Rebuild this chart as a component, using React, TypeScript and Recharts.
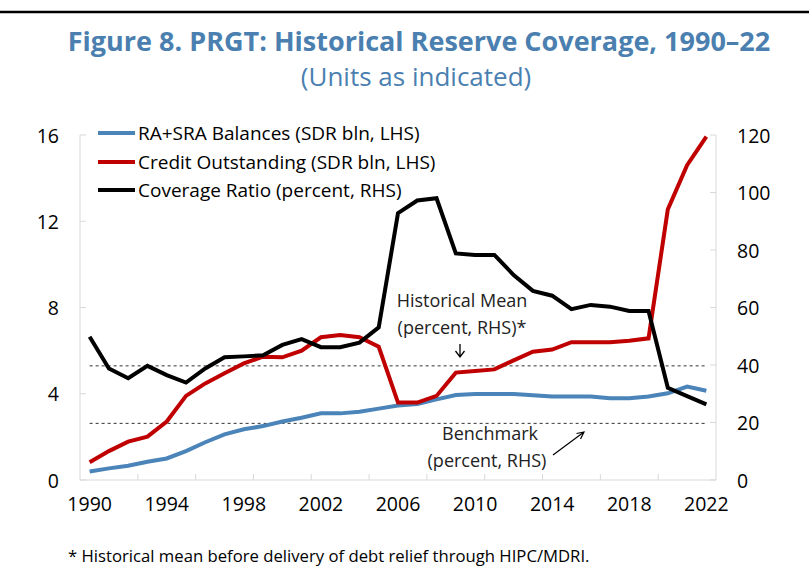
import React from 'react';
import { LineChart, Line, XAxis, YAxis, Legend } from 'recharts';

const years = [
  1990, 1991, 1992, 1993, 1994, 1995, 1996, 1997, 1998, 1999, 2000,
  2001, 2002, 2003, 2004, 2005, 2006, 2007, 2008, 2009, 2010, 2011,
  2012, 2013, 2014, 2015, 2016, 2017, 2018, 2019, 2020, 2021, 2022,
];
// SDR bln, left axis
const raSraBalances = [
  0.39, 0.54, 0.66, 0.85, 1.0, 1.34, 1.75, 2.12, 2.35, 2.5, 2.71,
  2.89, 3.09, 3.09, 3.17, 3.31, 3.45, 3.52, 3.74, 3.94, 3.99, 3.99,
  3.99, 3.93, 3.87, 3.87, 3.87, 3.79, 3.79, 3.87, 4.02, 4.33, 4.14,
];
const creditOutstanding = [
  0.82, 1.34, 1.78, 2.01, 2.71, 3.9, 4.48, 4.95, 5.41, 5.72, 5.69,
  6.0, 6.62, 6.72, 6.62, 6.18, 3.59, 3.59, 3.9, 4.98, 5.05, 5.13,
  5.55, 5.95, 6.05, 6.39, 6.39, 6.39, 6.46, 6.57, 12.55, 14.6, 15.92,
];
// percent, right axis
const coverageRatio = [
  49.8, 38.8, 35.4, 39.7, 36.5, 33.9, 38.8, 42.7, 43.0, 43.4, 47.0,
  49.0, 46.2, 46.2, 47.8, 53.1, 92.8, 97.2, 98.0, 78.8, 78.3, 78.3,
  71.3, 65.8, 64.1, 59.4, 60.9, 60.3, 58.8, 58.8, 32.1, 29.2, 26.3,
];
const historicalMean = 39.7;
const benchmark = 19.7;

const yearLabels = [1990, 1994, 1998, 2002, 2006, 2010, 2014, 2018, 2022];
const leftTicks = [0, 4, 8, 12, 16];
const rightTicks = [0, 20, 40, 60, 80, 100, 120];

const FONT = '"Open Sans", sans-serif';
const AXIS = '#d9d9d9';
const BLUE = '#4a84b8';
const RED = '#c00000';
const TITLE = '#4a7fb0';
const X_MARGIN = 23;
const Y_MARGIN = 21;

const seriesNames = [
  'RA+SRA Balances (SDR bln, LHS)',
  'Credit Outstanding (SDR bln, LHS)',
  'Coverage Ratio (percent, RHS)',
];
const seriesColors = [BLUE, RED, '#000'];

const data = years.map((year, i) => ({
  year,
  balances: raSraBalances[i],
  credit: creditOutstanding[i],
  coverage: coverageRatio[i],
  mean: historicalMean,
  bench: benchmark,
}));

// small tick marks sit between categories, every third year
const tickMarks = years.filter((_, i) => i > 0 && i % 3 === 0).map((y) => y - 0.5);
const xTicks = [...yearLabels, ...tickMarks].sort((a, b) => a - b);

const XTick = (props: any) => {
  const { x, y, payload } = props;
  const v = payload.value;
  const axisY = y - X_MARGIN;
  if (v % 1 !== 0) {
    return <line x1={x} x2={x} y1={axisY} y2={axisY - 6} stroke={AXIS} />;
  }
  return (
    <text x={x} y={y} textAnchor="middle" dominantBaseline="central" fontSize={19.5} fontFamily={FONT} fill="#000">
      {v}
    </text>
  );
};

const LeftTick = (props: any) => {
  const { x, y, payload } = props;
  return (
    <g>
      <line x1={x + Y_MARGIN} x2={x + Y_MARGIN + 6} y1={y} y2={y} stroke={AXIS} />
      <text x={x} y={y} textAnchor="end" dominantBaseline="central" fontSize={19.5} fontFamily={FONT} fill="#000">
        {payload.value}
      </text>
    </g>
  );
};

const RightTick = (props: any) => {
  const { x, y, payload } = props;
  return (
    <g>
      <line x1={x - Y_MARGIN} x2={x - Y_MARGIN - 6} y1={y} y2={y} stroke={AXIS} />
      <text x={x} y={y} textAnchor="start" dominantBaseline="central" fontSize={19.5} fontFamily={FONT} fill="#000">
        {payload.value}
      </text>
    </g>
  );
};

const LegendContent = () => (
  <div style={{ fontFamily: FONT, fontSize: 19, color: '#000' }}>
    {seriesNames.map((name, i) => (
      <div key={name} style={{ display: 'flex', alignItems: 'center', height: 28.5, whiteSpace: 'nowrap' }}>
        <span style={{ display: 'inline-block', width: 37, height: 4, background: seriesColors[i], marginRight: 3 }} />
        <span>{name}</span>
      </div>
    ))}
  </div>
);

export default function App() {
  return (
    <div style={{ position: 'absolute', left: 0, top: 0, width: 809, height: 576, background: '#fff' }}>
      <LineChart width={809} height={576} data={data} margin={{ top: 135, right: 0, bottom: 56, left: 0 }}>
        <XAxis
          dataKey="year"
          type="number"
          domain={[1989.5, 2022.5]}
          ticks={xTicks}
          interval={0}
          height={40}
          tickSize={0}
          tickMargin={X_MARGIN}
          tickLine={false}
          axisLine={{ stroke: AXIS }}
          tick={XTick}
        />
        <YAxis
          yAxisId="left"
          orientation="left"
          domain={[0, 16]}
          ticks={leftTicks}
          width={80}
          tickSize={0}
          tickMargin={Y_MARGIN}
          tickLine={false}
          axisLine={{ stroke: AXIS }}
          tick={LeftTick}
        />
        <YAxis
          yAxisId="right"
          orientation="right"
          domain={[0, 120]}
          ticks={rightTicks}
          width={93}
          tickSize={0}
          tickMargin={Y_MARGIN}
          tickLine={false}
          axisLine={{ stroke: AXIS }}
          tick={RightTick}
        />
        <Legend
          layout="vertical"
          align="center"
          verticalAlign="middle"
          content={LegendContent}
          wrapperStyle={{ left: 98, top: 119, width: 380 }}
        />
        <Line yAxisId="right" dataKey="mean" stroke="#333" strokeWidth={1} strokeDasharray="3 3" dot={false} legendType="none" isAnimationActive={false} />
        <Line yAxisId="right" dataKey="bench" stroke="#333" strokeWidth={1} strokeDasharray="3 3" dot={false} legendType="none" isAnimationActive={false} />
        <Line yAxisId="left" dataKey="balances" name={seriesNames[0]} stroke={BLUE} strokeWidth={4} dot={false} isAnimationActive={false} />
        <Line yAxisId="left" dataKey="credit" name={seriesNames[1]} stroke={RED} strokeWidth={4} dot={false} isAnimationActive={false} />
        <Line yAxisId="right" dataKey="coverage" name={seriesNames[2]} stroke="#000" strokeWidth={4} dot={false} isAnimationActive={false} />
      </LineChart>
      <svg width={809} height={576} style={{ position: 'absolute', left: 0, top: 0, pointerEvents: 'none' }} fontFamily={FONT}>
        <line x1={0} x2={809} y1={12} y2={12} stroke="#000" strokeWidth={2.5} />
        <text x={419} y={40} textAnchor="middle" dominantBaseline="central" fontSize={27} fontWeight="bold" fill={TITLE}>
          Figure 8. PRGT: Historical Reserve Coverage, 1990–22
        </text>
        <text x={416} y={76} textAnchor="middle" dominantBaseline="central" fontSize={26} fill={TITLE}>
          (Units as indicated)
        </text>
        <text x={462} y={300} textAnchor="middle" dominantBaseline="central" fontSize={18} fill="#222">Historical Mean</text>
        <text x={462} y={327} textAnchor="middle" dominantBaseline="central" fontSize={18} fill="#222">(percent, RHS)*</text>
        <path d="M460 344 L460 357 M455.5 351 L460 357 L464.5 351" stroke="#000" strokeWidth={1.3} fill="none" />
        <text x={490} y={433} textAnchor="middle" dominantBaseline="central" fontSize={18} fill="#222">Benchmark</text>
        <text x={487} y={460} textAnchor="middle" dominantBaseline="central" fontSize={18} fill="#222">(percent, RHS)</text>
        <path d="M553 455 L584 432 M576.5 433.5 L584 432 L580.5 439" stroke="#000" strokeWidth={1.2} fill="none" />
        <text x={68} y={555} dominantBaseline="central" fontSize={16.7} fill="#000">
          * Historical mean before delivery of debt relief through HIPC/MDRI.
        </text>
      </svg>
    </div>
  );
}
